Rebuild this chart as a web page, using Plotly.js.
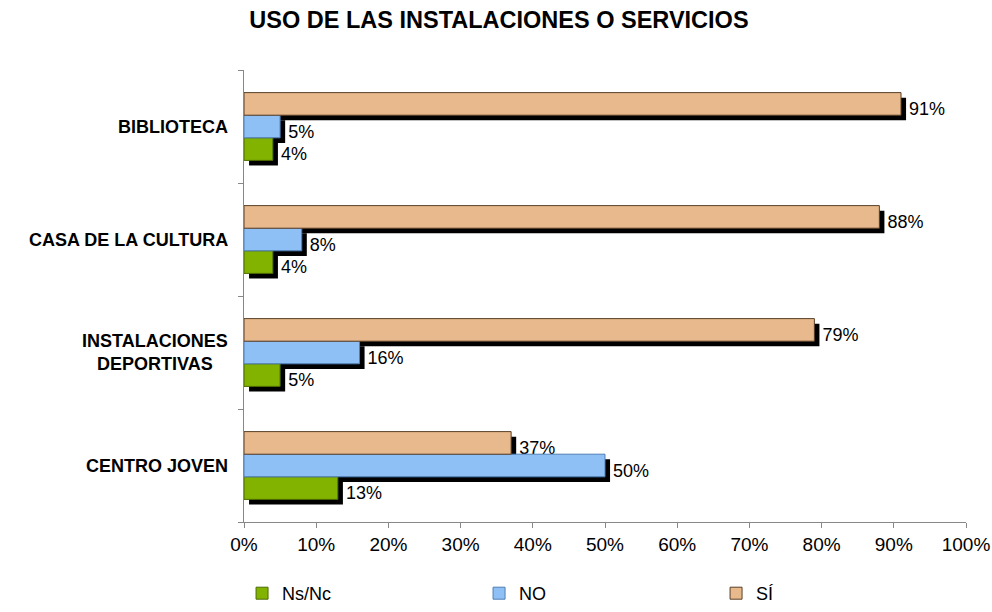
<!DOCTYPE html>
<html>
<head>
<meta charset="utf-8">
<script src="https://cdn.plot.ly/plotly-3.0.1.min.js"></script>
<style>
  body { margin: 0; background: #fff; }
  #chart { width: 992px; height: 612px; }
</style>
</head>
<body>
<div id="chart"></div>
<script>
// ----- DATOS
// categorias de abajo hacia arriba (Plotly dibuja la primera abajo)
const categorias = ['CENTRO JOVEN', 'INSTALACIONES<br>DEPORTIVAS', 'CASA DE LA CULTURA', 'BIBLIOTECA'];
const valoresNsNc = [13, 5, 4, 4];
const valoresNO = [50, 16, 8, 5];
const valoresSI = [37, 79, 88, 91];

const series = [
  { name: 'Ns/Nc', values: valoresNsNc, color: '#82B300', line: '#4D6B00', offset: -0.3 },
  { name: 'NO', values: valoresNO, color: '#8FC0F5', line: '#4F7FB5', offset: -0.1 },
  { name: 'SÍ', values: valoresSI, color: '#E8B98C', line: '#5A4028', offset: 0.1 }
];

const fuente = 'Liberation Sans, Arial, sans-serif';
const ancho = 0.2;      // alto de cada barra en unidades de categoria
const sombraX = 0.7;    // desplazamiento de la sombra en %
const sombraY = 0.045;  // desplazamiento de la sombra hacia abajo

// sombras primero (quedan debajo de las barras)
const sombras = series.map(s => ({
  type: 'bar',
  orientation: 'h',
  y: categorias,
  x: s.values,
  base: sombraX,
  width: ancho,
  offset: s.offset - sombraY,
  marker: { color: '#000000', line: { width: 0 } },
  text: s.values.map(v => v + '%'),
  textposition: 'outside',
  cliponaxis: false,
  textfont: { family: fuente, size: 18, color: '#000' },
  showlegend: false,
  hoverinfo: 'skip'
}));

const barras = series.map(s => ({
  type: 'bar',
  orientation: 'h',
  name: s.name,
  y: categorias,
  x: s.values,
  width: ancho,
  offset: s.offset,
  marker: { color: s.color, line: { color: s.line, width: 1 } },
  hovertemplate: '%{y}: %{x}%<extra>' + s.name + '</extra>'
}));

// etiquetas del eje Y centradas (como en el original)
const etiquetas = categorias.map(c => ({
  xref: 'paper', yref: 'y',
  x: 0, y: c,
  xanchor: 'right', yanchor: 'middle',
  xshift: -14,
  align: 'center',
  showarrow: false,
  text: '<b>' + c + '</b>',
  font: { family: fuente, size: 18, color: '#000' }
}));

const layout = {
  width: 992,
  height: 612,
  paper_bgcolor: '#ffffff',
  plot_bgcolor: '#ffffff',
  font: { family: fuente, size: 18, color: '#000' },
  margin: { l: 244, r: 26, t: 70, b: 90 },
  barmode: 'overlay',
  title: {
    text: '<b>USO DE LAS INSTALACIONES O SERVICIOS</b>',
    font: { size: 23.5, color: '#000' },
    xref: 'container', x: 0.503, xanchor: 'center',
    yref: 'container', y: 0.967, yanchor: 'middle'
  },
  xaxis: {
    range: [0, 100],
    dtick: 10,
    ticksuffix: '%',
    showgrid: false,
    zeroline: false,
    showline: true,
    linecolor: '#888',
    linewidth: 1,
    ticks: 'outside',
    ticklen: 5,
    tickcolor: '#888',
    tickfont: { size: 19 }
  },
  yaxis: {
    type: 'category',
    categoryorder: 'array',
    categoryarray: categorias,
    range: [-0.5, 3.5],
    showticklabels: false,
    showgrid: false,
    zeroline: false,
    showline: true,
    linecolor: '#888',
    linewidth: 1,
    ticks: 'outside',
    tickson: 'boundaries',
    ticklen: 5,
    tickcolor: '#888'
  },
  legend: {
    orientation: 'h',
    xref: 'container', yref: 'container',
    x: 0.244, xanchor: 'left',
    y: -0.012, yanchor: 'bottom',
    entrywidth: 192,
    entrywidthmode: 'pixels',
    font: { size: 18 },
    itemwidth: 30,
    traceorder: 'normal'
  },
  annotations: etiquetas,
  showlegend: true
};

Plotly.newPlot('chart', sombras.concat(barras), layout, { displayModeBar: false });
</script>
</body>
</html>
